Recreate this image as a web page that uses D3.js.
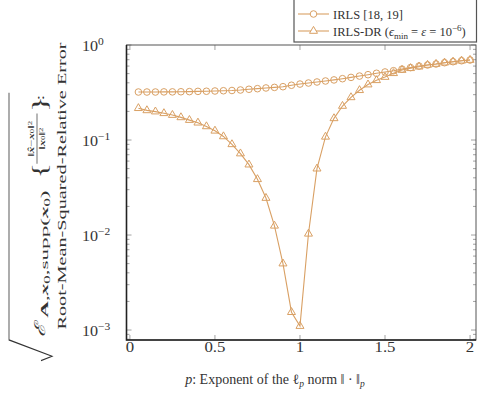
<!DOCTYPE html>
<html>
<head>
<meta charset="utf-8">
<script src="https://cdn.jsdelivr.net/npm/d3@7"></script>
<style>
  html, body { margin: 0; padding: 0; background: #fff; }
  svg { display: block; font-family: "Liberation Serif", "DejaVu Serif", serif; }
</style>
</head>
<body>
<div id="chart"></div>
<script>
// exponent p on the x axis
const pValues = [0.05, 0.10, 0.15, 0.20, 0.25, 0.30, 0.35, 0.40, 0.45, 0.50,
                 0.55, 0.60, 0.65, 0.70, 0.75, 0.80, 0.85, 0.90, 0.95, 1.00,
                 1.05, 1.10, 1.15, 1.20, 1.25, 1.30, 1.35, 1.40, 1.45, 1.50,
                 1.55, 1.60, 1.65, 1.70, 1.75, 1.80, 1.85, 1.90, 1.95, 2.00];

// IRLS [18, 19] (circles)
const irls = [0.320, 0.320, 0.320, 0.321, 0.321, 0.322, 0.323, 0.325, 0.326, 0.328,
              0.330, 0.332, 0.336, 0.342, 0.347, 0.353, 0.358, 0.364, 0.377, 0.388,
              0.398, 0.408, 0.418, 0.429, 0.442, 0.456, 0.471, 0.487, 0.504, 0.520,
              0.536, 0.557, 0.578, 0.600, 0.616, 0.631, 0.651, 0.667, 0.683, 0.695];

// IRLS-DR (triangles)
const irlsDR = [0.216, 0.205, 0.199, 0.191, 0.183, 0.173, 0.162, 0.152, 0.139, 0.125,
                0.109, 0.090, 0.072, 0.055, 0.0386, 0.0245, 0.0125, 0.0050, 0.00154, 0.00110,
                0.0103, 0.0499, 0.108, 0.169, 0.228, 0.281, 0.334, 0.383, 0.425, 0.460,
                0.504, 0.545, 0.569, 0.591, 0.616, 0.631, 0.651, 0.667, 0.683, 0.695];

const xTicks = [0, 0.5, 1, 1.5, 2];
const xTickLabels = ["0", "0.5", "1", "1.5", "2"];
const yTickExps = [0, -1, -2, -3];

const W = 479, H = 394;
const m = { left: 126.5, right: 476, top: 45, bottom: 340 };
const col = "#d9a064";
const ink = "#333";

const svg = d3.select("#chart").append("svg")
    .attr("width", W).attr("height", H);

const x = d3.scaleLinear().domain([-0.02, 2.035]).range([m.left, m.right]);
const y = d3.scaleLog().domain([Math.pow(10, -3.105), 1]).range([m.bottom, m.top]);

// minor ticks on both vertical sides
const minorVals = [];
for (let e = -4; e < 0; e++) {
    for (let k = 2; k <= 9; k++) {
        const v = k * Math.pow(10, e);
        if (v >= y.domain()[0] && v <= 1) minorVals.push(v);
    }
}
const ticks = svg.append("g").attr("stroke", "#8a8a8a").attr("stroke-width", 0.8);
minorVals.forEach(v => {
    ticks.append("line").attr("x1", m.left).attr("x2", m.left + 3).attr("y1", y(v)).attr("y2", y(v));
    ticks.append("line").attr("x1", m.right).attr("x2", m.right - 3).attr("y1", y(v)).attr("y2", y(v));
});
yTickExps.forEach(e => {
    const v = Math.pow(10, e);
    ticks.append("line").attr("x1", m.left).attr("x2", m.left + 5).attr("y1", y(v)).attr("y2", y(v));
    ticks.append("line").attr("x1", m.right).attr("x2", m.right - 5).attr("y1", y(v)).attr("y2", y(v));
});
xTicks.forEach(t => {
    ticks.append("line").attr("x1", x(t)).attr("x2", x(t)).attr("y1", m.bottom).attr("y2", m.bottom - 5);
    ticks.append("line").attr("x1", x(t)).attr("x2", x(t)).attr("y1", m.top).attr("y2", m.top + 5);
});

// frame
svg.append("rect").attr("x", m.left).attr("y", m.top)
    .attr("width", m.right - m.left).attr("height", m.bottom - m.top)
    .attr("fill", "none").attr("stroke", "#555").attr("stroke-width", 1);
svg.append("path")
    .attr("d", "M" + m.left + "," + m.top + "V" + m.bottom + "H" + m.right)
    .attr("fill", "none").attr("stroke", "#222").attr("stroke-width", 1.6);

// x tick labels (slightly widened, like the source rendering)
svg.append("g").selectAll("text").data(xTicks).enter().append("text")
    .attr("transform", d => "translate(" + x(d) + ",352) scale(1.2,1)")
    .attr("text-anchor", "middle").attr("font-size", 14).attr("fill", ink)
    .text((d, i) => xTickLabels[i]);

// y tick labels 10^e
const yl = svg.append("g").attr("fill", ink);
yTickExps.forEach(e => {
    const t = yl.append("text")
        .attr("transform", "translate(82," + (y(Math.pow(10, e)) + 6) + ") scale(1.15,1)")
        .attr("font-size", 14);
    t.append("tspan").text("10");
    t.append("tspan").attr("dy", -6).attr("font-size", 10).text(e === 0 ? "0" : "\u2212" + (-e));
});

// series
const line = d3.line().x(d => x(d[0])).y(d => y(d[1]));
const seriesA = pValues.map((p, i) => [p, irls[i]]);
const seriesB = pValues.map((p, i) => [p, irlsDR[i]]);
const triPath = "M0,-4.6L4,2.3L-4,2.3Z";

svg.append("path").datum(seriesA).attr("d", line)
    .attr("fill", "none").attr("stroke", col).attr("stroke-width", 1.1);
svg.append("g").selectAll("circle").data(seriesA).enter().append("circle")
    .attr("cx", d => x(d[0])).attr("cy", d => y(d[1])).attr("r", 3.3)
    .attr("fill", "none").attr("stroke", col).attr("stroke-width", 1);

svg.append("path").datum(seriesB).attr("d", line)
    .attr("fill", "none").attr("stroke", col).attr("stroke-width", 1.1);
svg.append("g").selectAll("path").data(seriesB).enter().append("path")
    .attr("transform", d => "translate(" + x(d[0]) + "," + y(d[1]) + ")")
    .attr("d", triPath)
    .attr("fill", "none").attr("stroke", col).attr("stroke-width", 1);

// legend
const lg = svg.append("g");
lg.append("rect").attr("x", 294).attr("y", -1).attr("width", 182.5).attr("height", 43)
    .attr("fill", "#fff").attr("stroke", "#555").attr("stroke-width", 1.2);
[14, 31].forEach((ly, i) => {
    lg.append("line").attr("x1", 298).attr("x2", 329).attr("y1", ly).attr("y2", ly)
        .attr("stroke", col).attr("stroke-width", 1.1);
    if (i === 0) {
        lg.append("circle").attr("cx", 313.5).attr("cy", ly).attr("r", 3.3)
            .attr("fill", "#fff").attr("stroke", col);
    } else {
        lg.append("path").attr("transform", "translate(313.5," + ly + ")").attr("d", triPath)
            .attr("fill", "#fff").attr("stroke", col);
    }
});
lg.append("text").attr("x", 333).attr("y", 18.5).attr("font-size", 12.5).attr("fill", ink)
    .text("IRLS [18, 19]");
const t2 = lg.append("text").attr("x", 333).attr("y", 35.5).attr("font-size", 12.5).attr("fill", ink);
t2.append("tspan").text("IRLS-DR (");
t2.append("tspan").attr("font-style", "italic").text("\u03f5");
t2.append("tspan").attr("dy", 3).attr("font-size", 9).text("min");
t2.append("tspan").attr("dy", -3).text(" = ");
t2.append("tspan").attr("font-style", "italic").text("\u03b5");
t2.append("tspan").text(" = 10");
t2.append("tspan").attr("dy", -5).attr("font-size", 9).text("\u22126");
t2.append("tspan").attr("dy", 5).text(")");

// x axis label
const xl = svg.append("text").attr("x", 275).attr("y", 384).attr("text-anchor", "middle")
    .attr("font-size", 14).attr("fill", ink);
xl.append("tspan").attr("font-style", "italic").text("p");
xl.append("tspan").text(": Exponent of the \u2113");
xl.append("tspan").attr("dy", 3).attr("font-size", 9.5).attr("font-style", "italic").text("p");
xl.append("tspan").attr("dy", -3).text(" norm \u2016 \u00b7 \u2016");
xl.append("tspan").attr("dy", 3).attr("font-size", 9.5).attr("font-style", "italic").text("p");

// y axis label, rotated and stretched along the text direction
const yg = svg.append("g").attr("transform", "translate(0,186) rotate(-90) scale(1.48,1)")
    .attr("fill", ink);
yg.append("text").attr("x", 0).attr("y", 66).attr("text-anchor", "middle")
    .attr("font-size", 13.5).attr("textLength", 194).attr("lengthAdjust", "spacingAndGlyphs")
    .text("Root-Mean-Squared-Relative Error");
yg.append("path").attr("d", "M-118,41L-115,52L-104,9L63,9")
    .attr("fill", "none").attr("stroke", ink).attr("stroke-width", 0.8);
yg.append("text").attr("x", -102).attr("y", 45).attr("font-size", 15)
    .attr("font-style", "italic").text("\u2130");
const sub = yg.append("text").attr("x", -89).attr("y", 48).attr("font-size", 11)
    .attr("textLength", 86).attr("lengthAdjust", "spacingAndGlyphs");
sub.append("tspan").attr("font-weight", "bold").text("A");
sub.append("tspan").text(",");
sub.append("tspan").attr("font-weight", "bold").attr("font-style", "italic").text("x");
sub.append("tspan").attr("font-size", 8).attr("dy", 2).text("0");
sub.append("tspan").attr("dy", -2).text(",supp(");
sub.append("tspan").attr("font-weight", "bold").attr("font-style", "italic").text("x");
sub.append("tspan").attr("font-size", 8).attr("dy", 2).text("0");
sub.append("tspan").attr("dy", -2).text(")");
yg.append("text").attr("x", 5).attr("y", 46).attr("font-size", 22).text("{");
yg.append("line").attr("x1", 15).attr("x2", 49).attr("y1", 37).attr("y2", 37)
    .attr("stroke", ink).attr("stroke-width", 0.7);
const num = yg.append("text").attr("x", 32).attr("y", 34).attr("text-anchor", "middle").attr("font-size", 8.5);
num.append("tspan").text("\u2016");
num.append("tspan").attr("font-weight", "bold").attr("font-style", "italic").text("x\u0302");
num.append("tspan").text("\u2212");
num.append("tspan").attr("font-weight", "bold").attr("font-style", "italic").text("x");
num.append("tspan").attr("font-size", 6).text("0");
num.append("tspan").text("\u2016");
num.append("tspan").attr("font-size", 6).attr("dy", -2).text("2");
const den = yg.append("text").attr("x", 32).attr("y", 45).attr("text-anchor", "middle").attr("font-size", 8.5);
den.append("tspan").text("\u2016");
den.append("tspan").attr("font-weight", "bold").attr("font-style", "italic").text("x");
den.append("tspan").attr("font-size", 6).text("0");
den.append("tspan").text("\u2016");
den.append("tspan").attr("font-size", 6).attr("dy", -2).text("2");
yg.append("text").attr("x", 50).attr("y", 46).attr("font-size", 22).text("}");
yg.append("text").attr("x", 58).attr("y", 44).attr("font-size", 13).text(":");
</script>
</body>
</html>
